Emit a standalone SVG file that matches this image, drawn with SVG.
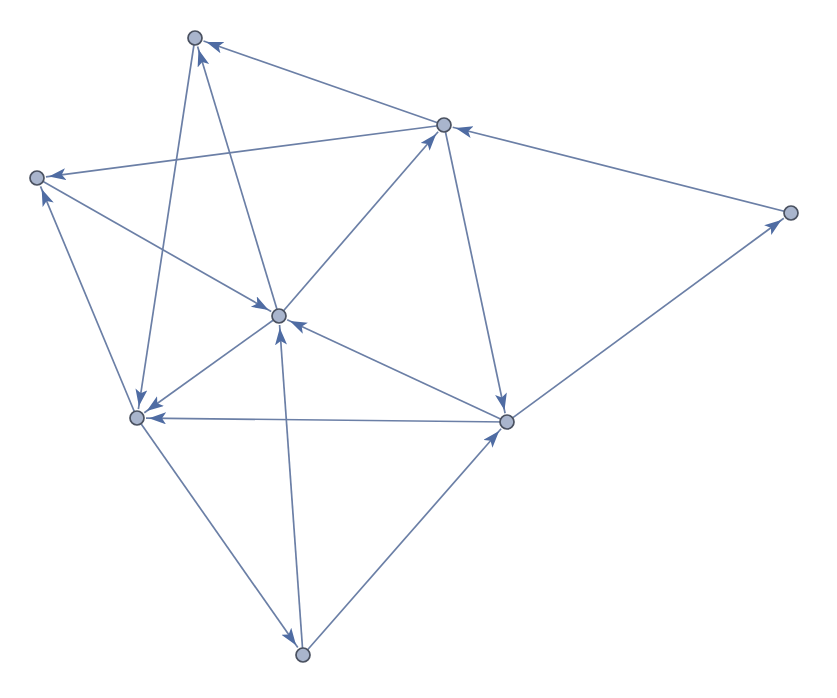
<svg xmlns="http://www.w3.org/2000/svg" width="837" height="698" viewBox="0 0 837 698">
<style>
.e{stroke:#6b7fa6;stroke-width:1.7;fill:none;marker-end:url(#ah)}
.n{fill:#a9b5cd;stroke:#4a5160;stroke-width:1.7}
</style>
<defs>
<marker id="ah" markerUnits="userSpaceOnUse" markerWidth="22" markerHeight="14" refX="20" refY="6" orient="auto">
<path d="M0,0 L17,6 L0,12 L4,6 z" fill="#4f6ca3"/>
</marker>
</defs>
<rect width="837" height="698" fill="#ffffff"/>
<g id="edges">
<line class="e" x1="444" y1="125" x2="203.5" y2="41"/>
<line class="e" x1="444" y1="125" x2="45.9" y2="176.8"/>
<line class="e" x1="791" y1="213" x2="452.7" y2="127.2"/>
<line class="e" x1="37" y1="178" x2="271.2" y2="311.5"/>
<line class="e" x1="279" y1="316" x2="438.1" y2="131.8"/>
<line class="e" x1="279" y1="316" x2="197.6" y2="46.6"/>
<line class="e" x1="195" y1="38" x2="138.4" y2="409.1"/>
<line class="e" x1="444" y1="125" x2="505.1" y2="413.2"/>
<line class="e" x1="507" y1="422" x2="287.2" y2="319.8"/>
<line class="e" x1="507" y1="422" x2="146" y2="418.1"/>
<line class="e" x1="279" y1="316" x2="144.3" y2="412.7"/>
<line class="e" x1="137" y1="418" x2="40.5" y2="186.3"/>
<line class="e" x1="507" y1="422" x2="783.8" y2="218.3"/>
<line class="e" x1="137" y1="418" x2="297.8" y2="647.6"/>
<line class="e" x1="303" y1="655" x2="279.6" y2="325"/>
<line class="e" x1="303" y1="655" x2="501.1" y2="428.8"/>
</g>
<g id="nA"><circle class="n" cx="195" cy="38" r="7"/></g>
<g id="nB"><circle class="n" cx="444" cy="125" r="7"/></g>
<g id="nC"><circle class="n" cx="37" cy="178" r="7"/></g>
<g id="nD"><circle class="n" cx="791" cy="213" r="7"/></g>
<g id="nE"><circle class="n" cx="279" cy="316" r="7"/></g>
<g id="nF"><circle class="n" cx="137" cy="418" r="7"/></g>
<g id="nG"><circle class="n" cx="507" cy="422" r="7"/></g>
<g id="nH"><circle class="n" cx="303" cy="655" r="7"/></g>
</svg>
